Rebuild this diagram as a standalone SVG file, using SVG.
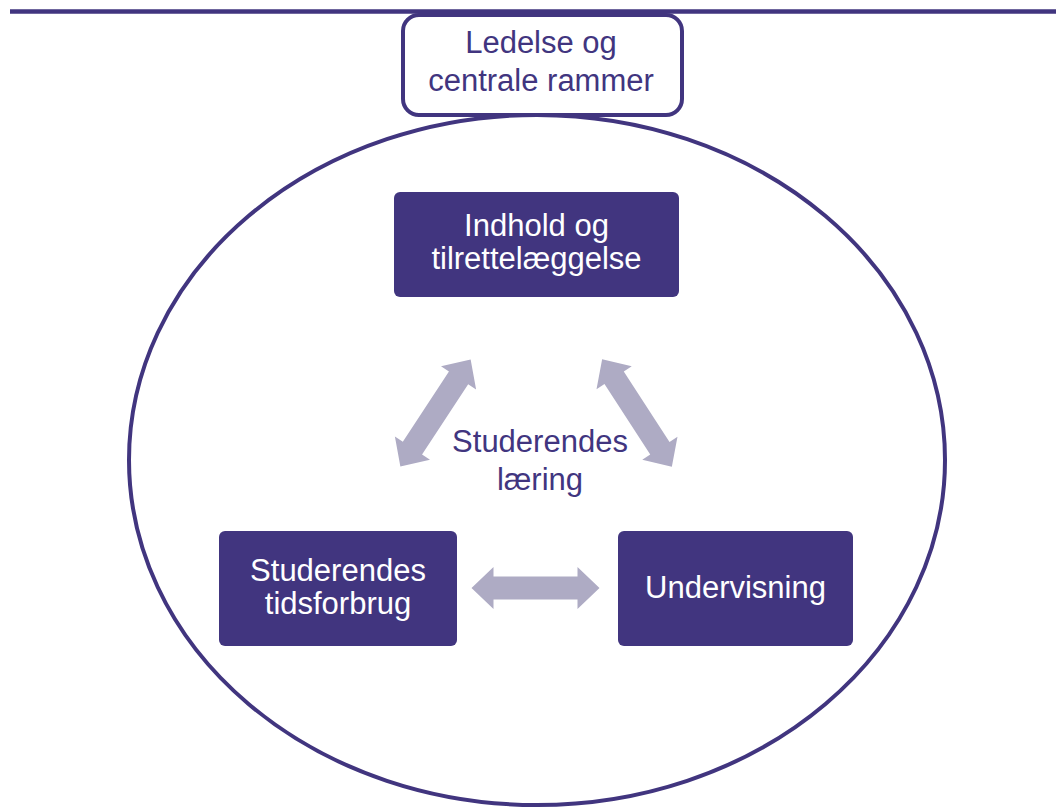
<svg xmlns="http://www.w3.org/2000/svg" width="1056" height="807" viewBox="0 0 1056 807">
  <style>
    .frame { fill: none; stroke: #41357f; stroke-width: 4; }
    .box { fill: #41357f; }
    .label { font-family: "Liberation Sans", Arial, sans-serif; font-size: 31px; text-anchor: middle; }
    .light { fill: #ffffff; }
    .dark { fill: #41357f; }
    .arrow { fill: #aeabc4; }
  </style>
  <defs>
    <!-- double-headed block arrow, centred on the origin, pointing along x -->
    <polygon id="dbl" points="-64,0 -42,-21 -42,-11.5 42,-11.5 42,-21 64,0 42,21 42,11.5 -42,11.5 -42,21"/>
  </defs>

  <rect width="1056" height="807" fill="#ffffff"/>

  <!-- top rule -->
  <line x1="10" y1="11.5" x2="1056" y2="11.5" stroke="#41357f" stroke-width="4.5"/>

  <!-- outer ellipse -->
  <ellipse cx="537" cy="460" rx="408" ry="345" class="frame"/>

  <g id="ledelse">
    <rect x="403" y="15" width="279" height="100" rx="16" fill="#ffffff" class="frame"/>
    <text class="label dark" x="541" y="53">Ledelse og</text>
    <text class="label dark" x="541" y="91">centrale rammer</text>
  </g>

  <g id="connectors">
    <use href="#dbl" class="arrow" transform="translate(435.5 413) rotate(-56.7)"/>
    <use href="#dbl" class="arrow" transform="translate(637 413) rotate(57)"/>
    <use href="#dbl" class="arrow" transform="translate(535.5 588)"/>
  </g>

  <g id="indhold">
    <rect x="394" y="192" width="285" height="105" rx="6" class="box"/>
    <text class="label light" x="536.5" y="236">Indhold og</text>
    <text class="label light" x="536.5" y="269">tilrettelæggelse</text>
  </g>

  <g id="tidsforbrug">
    <rect x="219" y="531" width="238" height="115" rx="6" class="box"/>
    <text class="label light" x="338" y="581">Studerendes</text>
    <text class="label light" x="338" y="614">tidsforbrug</text>
  </g>

  <g id="undervisning">
    <rect x="618" y="531" width="235" height="115" rx="6" class="box"/>
    <text class="label light" x="735.5" y="598">Undervisning</text>
  </g>

  <g id="laering">
    <text class="label dark" x="540" y="452">Studerendes</text>
    <text class="label dark" x="540" y="490">læring</text>
  </g>
</svg>
